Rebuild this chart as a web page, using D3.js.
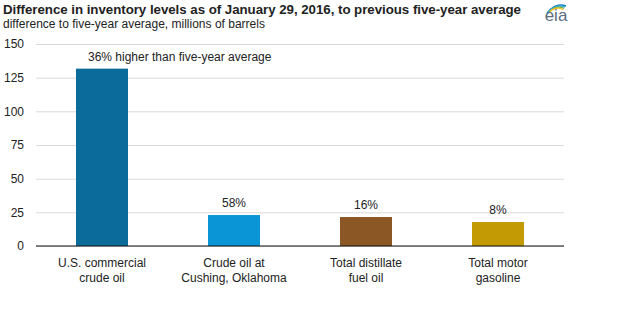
<!DOCTYPE html>
<html>
<head>
<meta charset="utf-8">
<script src="https://cdn.jsdelivr.net/npm/d3@7"></script>
<style>
  body { margin: 0; background: #fff; }
  text { font-family: "Liberation Sans", Arial, sans-serif; }
</style>
</head>
<body>
<script>
const categories = ['U.S. commercial|crude oil', 'Crude oil at|Cushing, Oklahoma', 'Total distillate|fuel oil', 'Total motor|gasoline']
const values = [131.7, 23.0, 21.5, 17.8]
const pctLabels = ['36% higher than five-year average', '58%', '16%', '8%']
const barColors = ['#0b6c9c', '#0a96d6', '#8b5724', '#c49a04']
const yTicks = [0, 25, 50, 75, 100, 125, 150]

const w = 640
const h = 325
const plotLeft = 36
const plotRight = 564
const plotTop = 44
const plotBottom = 246

const svg = d3.select('body')
  .append('svg')
  .attr('width', w)
  .attr('height', h)

// titles
svg.append('text')
  .attr('x', 3)
  .attr('y', 14)
  .attr('font-size', 13.3)
  .attr('font-weight', 'bold')
  .attr('fill', '#222')
  .attr('textLength', 518)
  .text('Difference in inventory levels as of January 29, 2016, to previous five-year average')

svg.append('text')
  .attr('x', 3)
  .attr('y', 28)
  .attr('font-size', 12)
  .attr('fill', '#222')
  .text('difference  to five-year  average,  millions of barrels')

// eia logo
const logo = svg.append('g').attr('transform', 'translate(545, 0)')
const arcColors = ['#0a7bc1', '#39a9dc', '#7cb342', '#f2c21a']
arcColors.forEach((c, k) => {
  logo.append('path')
    .attr('d', `M${2 + k},${13 - k * 0.5} Q${11},${2 + k * 1.3} ${21 - k},${6 + k * 1.2}`)
    .attr('stroke', c)
    .attr('stroke-width', 1.4)
    .attr('fill', 'none')
})
logo.append('text')
  .attr('x', 11)
  .attr('y', 21)
  .attr('text-anchor', 'middle')
  .attr('font-family', '"Liberation Serif", "DejaVu Serif", serif')
  .attr('font-size', 17)
  .attr('fill', '#5a6e7e')
  .text('eia')

const xScale = d3.scaleBand()
  .domain(categories)
  .range([plotLeft, plotRight])
  .paddingInner(0.606)
  .paddingOuter(0.303)

const yScale = d3.scaleLinear()
  .domain([0, 150])
  .range([plotBottom, plotTop])

const yAxis = d3.axisLeft(yScale)
  .tickValues(yTicks)
  .tickSize(plotLeft - plotRight)
  .tickPadding(12)

svg.append('g')
  .attr('transform', `translate(${plotLeft}, 0)`)
  .call(yAxis)
  .call(g => g.select('.domain').remove())
  .call(g => g.selectAll('.tick line').attr('stroke', '#d9d9d9'))
  .call(g => g.selectAll('.tick text')
    .attr('font-size', 12)
    .attr('fill', '#222')
    .attr('font-family', '"Liberation Sans", Arial, sans-serif'))

svg.selectAll('rect.bar')
  .data(values)
  .enter()
  .append('rect')
  .attr('class', 'bar')
  .attr('x', (d, i) => xScale(categories[i]))
  .attr('y', d => yScale(d))
  .attr('width', xScale.bandwidth())
  .attr('height', d => yScale(0) - yScale(d))
  .attr('fill', (d, i) => barColors[i])

// zero line
svg.append('line')
  .attr('x1', plotLeft)
  .attr('x2', plotRight)
  .attr('y1', yScale(0))
  .attr('y2', yScale(0))
  .attr('stroke', '#111')
  .attr('stroke-width', 1.2)

// value labels
svg.selectAll('text.pct')
  .data(values)
  .enter()
  .append('text')
  .attr('class', 'pct')
  .attr('x', (d, i) => i === 0 ? xScale(categories[i]) + 12 : xScale(categories[i]) + xScale.bandwidth() / 2)
  .attr('y', d => yScale(d) - 8)
  .attr('text-anchor', (d, i) => i === 0 ? 'start' : 'middle')
  .attr('font-size', 12)
  .attr('fill', '#222')
  .text((d, i) => pctLabels[i])

// category labels
const xAxis = d3.axisBottom(xScale).tickSize(0).tickFormat('')
const xg = svg.append('g')
  .attr('transform', `translate(0, ${plotBottom})`)
  .call(xAxis)
xg.select('.domain').remove()
xg.selectAll('.tick').each(function (d) {
  const t = d3.select(this).append('text')
    .attr('text-anchor', 'middle')
    .attr('font-size', 12)
    .attr('fill', '#222')
  d.split('|').forEach((line, k) => {
    t.append('tspan')
      .attr('x', 0)
      .attr('y', 21 + k * 15)
      .text(line)
  })
})
</script>
</body>
</html>
